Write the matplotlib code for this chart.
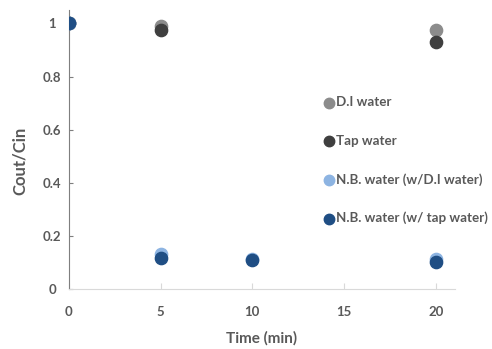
import matplotlib.pyplot as plt

time = [0, 5, 10, 20]
di_time = [0, 5, 20]
di_water = [1.0, 0.99, 0.974]
tap_water = [1.0, 0.977, 0.929]
nb_di = [1.0, 0.13, 0.113, 0.113]
nb_tap = [1.0, 0.117, 0.109, 0.10]

txt = '#595959'
plt.rcParams['font.family'] = ['Lato', 'DejaVu Sans']

fig = plt.figure(figsize=(4.92, 3.49), dpi=100)
ax = fig.add_axes([0.140, 0.172, 0.785, 0.799])

ax.scatter(di_time, di_water, s=78, color='#8c8c8c', label='D.I water', zorder=3)
ax.scatter(di_time, tap_water, s=78, color='#3f3f3f', label='Tap water', zorder=3)
ax.scatter(time, nb_di, s=78, color='#8db4e2', label='N.B. water (w/D.I water)', zorder=3)
ax.scatter(time, nb_tap, s=78, color='#1f4e84', label='N.B. water (w/ tap water)', zorder=3)

ax.set_xlim(0, 21.05)
ax.set_ylim(0, 1.05)
ax.set_xticks([0, 5, 10, 15, 20])
ax.set_yticks([0, 0.2, 0.4, 0.6, 0.8, 1])
ax.set_yticklabels(['0', '0.2', '0.4', '0.6', '0.8', '1'])

for s in ['top', 'right']:
    ax.spines[s].set_visible(False)
ax.spines['left'].set_color('#7f7f7f')
ax.spines['bottom'].set_color('#d9d9d9')
ax.tick_params(axis='x', direction='in', length=4, color='#d9d9d9', pad=12,
               labelsize=9.5, labelcolor=txt)
ax.tick_params(axis='y', direction='in', length=3, color='#7f7f7f', pad=12,
               labelsize=9.5, labelcolor=txt)
for lab in ax.get_xticklabels() + ax.get_yticklabels():
    lab.set_fontweight('bold')
for lab in ax.get_yticklabels():
    lab.set_horizontalalignment('center')

ax.set_xlabel('Time (min)', fontsize=11, fontweight='bold', color=txt, va='center')
ax.set_ylabel('Cout/Cin', fontsize=12, fontweight='bold', color=txt, va='center')
ax.xaxis.set_label_coords(0.5, -0.176)
ax.yaxis.set_label_coords(-0.127, 0.459)

leg = ax.legend(loc='upper left', bbox_to_anchor=(0.64, 0.71), frameon=False,
                labelspacing=1.97, handletextpad=0.0, handlelength=1.1,
                borderaxespad=0, markerscale=0.85,
                prop={'size': 9.6, 'weight': 'bold'}, scatterpoints=1)
for t in leg.get_texts():
    t.set_color(txt)

fig.savefig('out.png', dpi=100)
